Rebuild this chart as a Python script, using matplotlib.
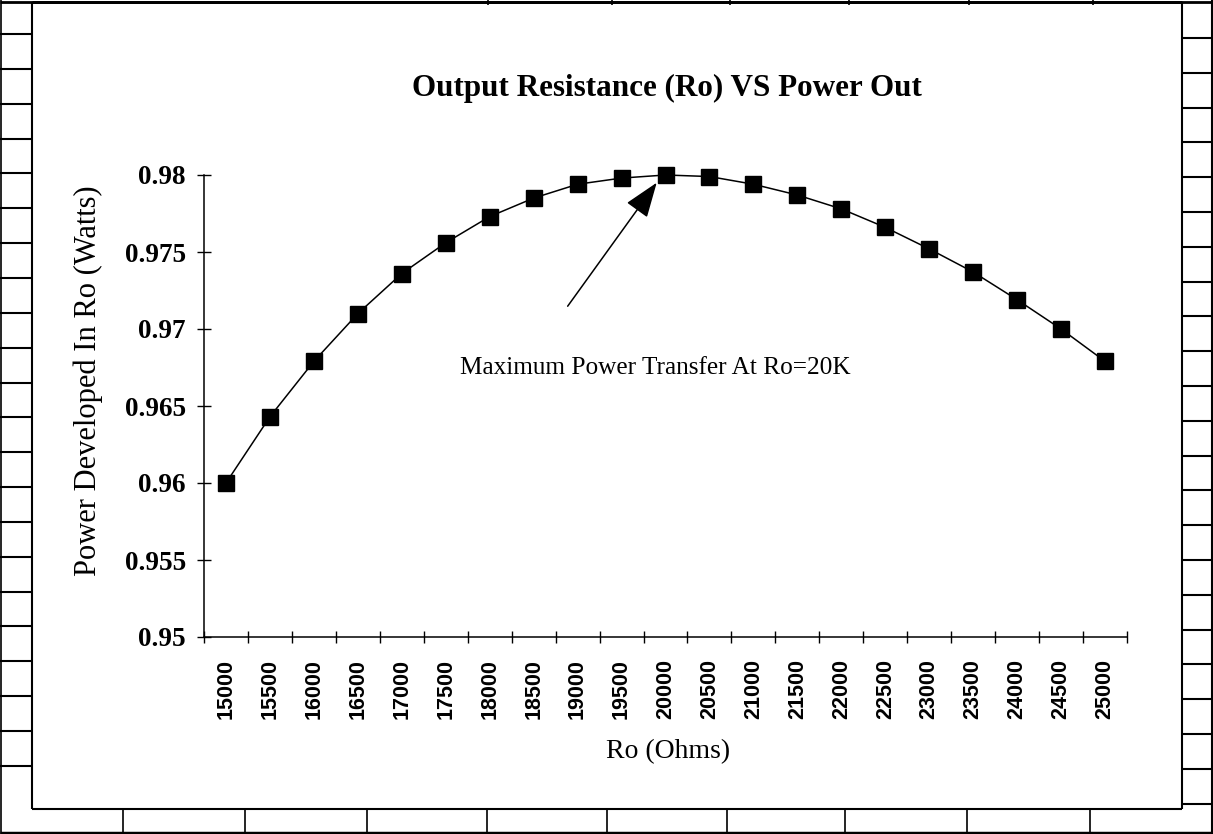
"""
Output resistance vs power out - recreated Excel-style chart with the
spreadsheet cell grid visible around the chart box.
"""
import matplotlib
matplotlib.use("Agg")
import matplotlib.pyplot as plt
from matplotlib.lines import Line2D
from matplotlib.ticker import FixedLocator

# --- data ---
RO_OHMS = [15000, 15500, 16000, 16500, 17000, 17500, 18000, 18500, 19000,
           19500, 20000, 20500, 21000, 21500, 22000, 22500, 23000, 23500,
           24000, 24500, 25000]
POWER_W = [0.9600, 0.9643, 0.9679, 0.9710, 0.9736, 0.9756, 0.9773, 0.9785,
           0.9794, 0.9798, 0.9800, 0.9799, 0.9794, 0.9787, 0.9778, 0.9766,
           0.9752, 0.9737, 0.9719, 0.9700, 0.9679]
Y_TICKS = [0.95, 0.955, 0.96, 0.965, 0.97, 0.975, 0.98]
Y_TICK_LABELS = ["0.95", "0.955", "0.96", "0.965", "0.97", "0.975", "0.98"]

TITLE = "Output Resistance (Ro) VS Power Out"
XLABEL = "Ro (Ohms)"
YLABEL = "Power Developed In Ro (Watts)"
NOTE = "Maximum Power Transfer At Ro=20K"

W, H = 1213, 834
SERIF = ["Liberation Serif", "DejaVu Serif"]
SANS = ["Liberation Sans", "DejaVu Sans"]


def fx(x):
    return x / W


def fy(y):
    return 1 - y / H


def main():
    fig = plt.figure(figsize=(W / 100, H / 100), dpi=100, facecolor="white")

    # ---- spreadsheet frame around the chart ----
    def seg(x0, y0, x1, y1, lw=1.5):
        fig.add_artist(Line2D([fx(x0), fx(x1)], [fy(y0), fy(y1)],
                              transform=fig.transFigure, color="black",
                              lw=lw, solid_capstyle="butt"))

    box_l, box_r, box_t, box_b = 32, 1182, 2, 809
    seg(box_l, box_t, box_r, box_t, 2.0)
    seg(box_l, box_b, box_r, box_b, 1.5)
    seg(box_l, box_t, box_l, box_b, 1.5)
    seg(box_r, box_t, box_r, box_b, 1.5)
    seg(0, box_t, W, box_t, 2.0)
    seg(0, 833, W, 833, 2.5)
    seg(1, 0, 1, H, 1.2)
    seg(1212, 0, 1212, H, 1.5)
    y = 34.0
    while y < box_b - 10:
        seg(0, y, box_l, y, 1.5)
        y += 34.85
    y = 38.0
    while y < box_b - 3:
        seg(box_r, y, 1212, y, 1.5)
        y += 34.8
    for x in [123, 245, 367, 487, 607, 727, 845, 967, 1090]:
        seg(x, box_b, x, 833, 1.2)
    for x in [488, 612, 730, 849, 969, 1093]:
        seg(x, 0, x, 5, 1.2)

    # ---- plot area ----
    ax = fig.add_axes([fx(204), fy(637), (1127 - 204) / W, (637 - 175) / H])
    xs = list(range(len(RO_OHMS)))
    ax.plot(xs, POWER_W, color="black", lw=1.1, marker="s", ms=11,
            mfc="black", mec="black", clip_on=False, zorder=3)

    ax.set_xlim(-0.5, len(RO_OHMS) - 0.5)
    ax.set_ylim(Y_TICKS[0], Y_TICKS[-1])
    for side in ("top", "right"):
        ax.spines[side].set_visible(False)
    for side in ("left", "bottom"):
        ax.spines[side].set_linewidth(1.1)

    ax.set_yticks(Y_TICKS)
    ax.set_yticklabels(Y_TICK_LABELS, fontfamily=SERIF, fontweight="bold",
                       fontsize=19.5)
    ax.tick_params(axis="y", direction="inout", length=10, width=1.0, pad=8)

    ax.set_xticks(xs)
    ax.set_xticklabels([str(v) for v in RO_OHMS], rotation=90,
                       fontfamily=SANS, fontweight="bold", fontsize=15.5)
    ax.xaxis.set_minor_locator(FixedLocator([i - 0.5 for i in range(len(xs) + 1)]))
    ax.tick_params(axis="x", which="major", length=0, pad=16)
    ax.tick_params(axis="x", which="minor", direction="inout", length=8,
                   width=1.0)

    # arrow + note
    ax.annotate("", xy=(9.8, 0.9795), xycoords="data",
                xytext=(0.394, 0.716), textcoords="axes fraction",
                arrowprops=dict(arrowstyle="-|>,head_length=1.1,head_width=0.4",
                                mutation_scale=20, color="black", lw=1.1,
                                shrinkA=0, shrinkB=0))
    ax.text(0.4886, 0.582, NOTE, transform=ax.transAxes, ha="center",
            va="center", fontfamily=SERIF, fontsize=18.2)

    fig.text(fx(667), fy(88), TITLE, ha="center", va="center",
             fontfamily=SERIF, fontweight="bold", fontsize=22.4)
    fig.text(fx(668), fy(752), XLABEL, ha="center", va="center",
             fontfamily=SERIF, fontsize=20)
    fig.text(fx(88), fy(381), YLABEL, ha="center", va="center",
             rotation=90, fontfamily=SERIF, fontsize=22)

    fig.savefig("out.png", dpi=100, facecolor="white")
    plt.close(fig)


if __name__ == "__main__":
    main()
